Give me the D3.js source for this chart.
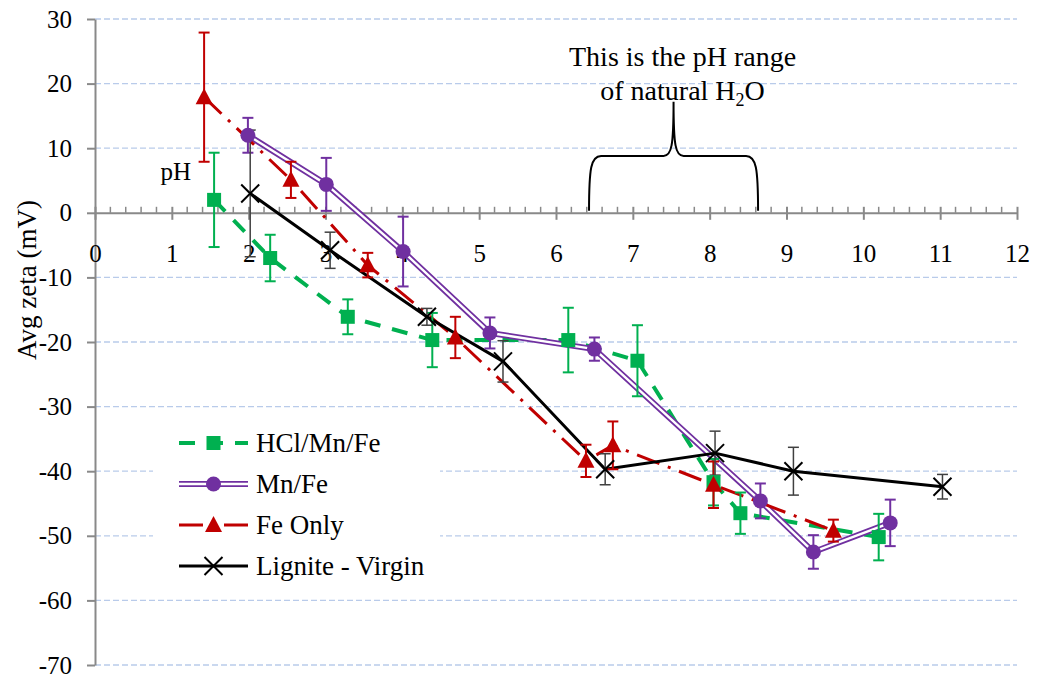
<!DOCTYPE html>
<html>
<head>
<meta charset="utf-8">
<script src="https://cdn.jsdelivr.net/npm/d3@7"></script>
<style>
  body { margin: 0; background: #fff; }
  svg { display: block; }
  svg text { font-family: "Liberation Serif", "Times New Roman", Tinos, "DejaVu Serif", serif; }
</style>
</head>
<body>
<svg id="chart" width="1038" height="683"></svg>
<script>
// data (pH, avg zeta mV, error +/-)
var phHCl = [1.55, 2.28, 3.29, 4.39, 6.16, 7.06, 8.05, 8.40, 10.20];
var zetaHCl = [2.0, -7.0, -16.1, -19.7, -19.7, -22.9, -41.7, -46.5, -50.2];
var errHCl = [7.3, 3.6, 2.7, 4.2, 5.0, 5.5, 3.6, 3.2, 3.6];

var phMnFe = [1.99, 3.01, 4.01, 5.14, 6.50, 8.66, 9.35, 10.35];
var zetaMnFe = [12.0, 4.4, -6.0, -18.6, -21.1, -44.6, -52.5, -48.0];
var errMnFe = [2.7, 4.1, 5.4, 2.4, 1.8, 2.7, 2.6, 3.6];

var phFe = [1.42, 2.55, 3.55, 4.69, 6.39, 6.74, 8.05, 9.61];
var zetaFe = [17.9, 5.1, -8.1, -19.3, -38.4, -36.0, -42.1, -49.2];
var errFe = [10.0, 2.8, 1.9, 3.2, 2.5, 3.7, 3.6, 1.7];

var phLig = [2.02, 3.06, 4.32, 5.31, 6.64, 8.07, 9.09, 11.03];
var zetaLig = [3.0, -5.8, -16.1, -23.0, -39.7, -37.2, -40.0, -42.4];
var errLig = [9.8, 2.8, 1.3, 3.2, 2.4, 3.4, 3.7, 1.9];

var seriesNames = ["HCl/Mn/Fe", "Mn/Fe", "Fe Only", "Lignite - Virgin"];
var yTicks = [30, 20, 10, 0, -10, -20, -30, -40, -50, -60, -70];
var xTicks = [0, 1, 2, 3, 4, 5, 6, 7, 8, 9, 10, 11, 12];
var naturalRange = [6.43, 8.63];

var serif = '"Liberation Serif", "Times New Roman", Tinos, "DejaVu Serif", serif';

function zip(px, zs, es) {
  return px.map(function (p, i) { return { x: p, y: zs[i], e: es[i] }; });
}

var series = [
  { name: seriesNames[0], data: zip(phHCl, zetaHCl, errHCl), color: "#00b050", width: 4, dash: "16 12", marker: "square" },
  { name: seriesNames[1], data: zip(phMnFe, zetaMnFe, errMnFe), color: "#7030a0", width: 6, dash: null, marker: "circle", double: true },
  { name: seriesNames[2], data: zip(phFe, zetaFe, errFe), color: "#c00000", width: 3, dash: "24 9 3 9", marker: "triangle" },
  { name: seriesNames[3], data: zip(phLig, zetaLig, errLig), color: "#000000", width: 3, dash: null, marker: "x", errColor: "#404040" }
];

var svg = d3.select("#chart").style("font-family", serif);
var x = d3.scaleLinear().domain([0, 12]).range([95, 1017]);
var y = d3.scaleLinear().domain([-70, 30]).range([665, 19]);
var axisColor = "#898989";
var plain = function (d) { return String(d); };

// gridlines
svg.append("g")
  .selectAll("line")
  .data(yTicks.filter(function (d) { return d !== 0; }))
  .join("line")
  .attr("x1", x(0)).attr("x2", x(12))
  .attr("y1", function (d) { return y(d); })
  .attr("y2", function (d) { return y(d); })
  .attr("stroke", "#b9cbea")
  .attr("stroke-width", 1.3)
  .attr("stroke-dasharray", "6 3");

// y axis
var yAxis = svg.append("g")
  .attr("transform", "translate(" + x(0) + ",0)")
  .call(d3.axisLeft(y).tickValues(yTicks).tickFormat(plain).tickSize(8).tickPadding(15).tickSizeOuter(0));
yAxis.attr("font-family", null).attr("font-size", 25);
yAxis.select(".domain").attr("stroke", axisColor).attr("stroke-width", 2);
yAxis.selectAll(".tick line").attr("stroke", axisColor).attr("stroke-width", 2);
yAxis.selectAll("text").attr("fill", "#000");

// x axis crossing at zero
var xAxis = svg.append("g")
  .attr("transform", "translate(0," + y(0) + ")")
  .call(d3.axisBottom(x).tickValues(xTicks).tickFormat(plain).tickSize(7).tickPadding(24).tickSizeOuter(0));
xAxis.attr("font-family", null).attr("font-size", 25);
xAxis.select(".domain").attr("stroke", axisColor).attr("stroke-width", 2);
xAxis.selectAll(".tick line").attr("stroke", axisColor).attr("stroke-width", 2).attr("y1", -6);
xAxis.selectAll("text").attr("fill", "#000");

// minor ticks every 0.2 pH above the axis
var minor = d3.range(0, 60).map(function (i) { return i / 5; }).filter(function (d) { return Math.round(d * 5) % 5 !== 0; });
xAxis.append("g")
  .selectAll("line")
  .data(minor)
  .join("line")
  .attr("x1", function (d) { return x(d); })
  .attr("x2", function (d) { return x(d); })
  .attr("y1", -6).attr("y2", 0)
  .attr("stroke", axisColor)
  .attr("stroke-width", 1.5);

// axis title
svg.append("text")
  .attr("transform", "translate(36,280) rotate(-90)")
  .attr("text-anchor", "middle")
  .attr("font-size", 27)
  .text("Avg zeta (mV)");

// "pH" label near axis
svg.append("text")
  .attr("x", x(1.05)).attr("y", y(0) - 33)
  .attr("text-anchor", "middle")
  .attr("font-size", 25)
  .text("pH");

// brace for natural water pH range
var bx0 = x(naturalRange[0]), bx1 = x(naturalRange[1]), bm = (bx0 + bx1) / 2;
var by0 = y(0) - 2, byH = y(8.8), byP = y(17.2);
var brace = d3.path();
brace.moveTo(bx0, by0);
brace.bezierCurveTo(bx0, byH + 12, bx0 + 2, byH, bx0 + 12, byH);
brace.lineTo(bm - 10, byH);
brace.bezierCurveTo(bm - 2, byH, bm, byH - 10, bm, byP);
brace.bezierCurveTo(bm, byH - 10, bm + 2, byH, bm + 10, byH);
brace.lineTo(bx1 - 12, byH);
brace.bezierCurveTo(bx1 - 2, byH, bx1, byH + 12, bx1, by0);
svg.append("path")
  .attr("d", brace.toString())
  .attr("fill", "none")
  .attr("stroke", "#000")
  .attr("stroke-width", 2);

var note = svg.append("text")
  .attr("text-anchor", "middle")
  .attr("font-size", 28);
note.append("tspan").attr("x", bm + 9).attr("y", 66).text("This is the pH range");
var l2 = note.append("tspan").attr("x", bm + 9).attr("y", 100);
l2.append("tspan").text("of natural H");
l2.append("tspan").attr("font-size", 18).attr("dy", 6).text("2");
l2.append("tspan").attr("dy", -6).text("O");

// lines
var line = d3.line().x(function (d) { return x(d.x); }).y(function (d) { return y(d.y); });
var gLines = svg.append("g");
series.forEach(function (s) {
  gLines.append("path")
    .attr("d", line(s.data))
    .attr("fill", "none")
    .attr("stroke", s.color)
    .attr("stroke-width", s.width)
    .attr("stroke-dasharray", s.dash)
    .attr("stroke-linejoin", "round");
  if (s.double) {
    gLines.append("path")
      .attr("d", line(s.data))
      .attr("fill", "none")
      .attr("stroke", "#fff")
      .attr("stroke-width", 2.4)
      .attr("stroke-linejoin", "round");
  }
});

// error bars
var gErr = svg.append("g");
series.forEach(function (s) {
  var c = s.errColor || s.color;
  var g = gErr.append("g").attr("stroke", c).attr("stroke-width", s.errColor ? 1.5 : 2);
  g.selectAll(".v").data(s.data).join("line")
    .attr("x1", function (d) { return x(d.x); }).attr("x2", function (d) { return x(d.x); })
    .attr("y1", function (d) { return y(d.y + d.e); }).attr("y2", function (d) { return y(d.y - d.e); });
  g.selectAll(".t").data(s.data).join("line")
    .attr("x1", function (d) { return x(d.x) - 5.5; }).attr("x2", function (d) { return x(d.x) + 5.5; })
    .attr("y1", function (d) { return y(d.y + d.e); }).attr("y2", function (d) { return y(d.y + d.e); });
  g.selectAll(".b").data(s.data).join("line")
    .attr("x1", function (d) { return x(d.x) - 5.5; }).attr("x2", function (d) { return x(d.x) + 5.5; })
    .attr("y1", function (d) { return y(d.y - d.e); }).attr("y2", function (d) { return y(d.y - d.e); });
});

function drawMarker(g, type, cx, cy, color) {
  if (type === "square") {
    g.append("rect").attr("x", cx - 7).attr("y", cy - 7).attr("width", 14).attr("height", 14).attr("fill", color);
  } else if (type === "circle") {
    g.append("circle").attr("cx", cx).attr("cy", cy).attr("r", 7.5).attr("fill", color);
  } else if (type === "triangle") {
    g.append("path").attr("d", "M" + cx + "," + (cy - 9) + "L" + (cx + 8.5) + "," + (cy + 7) + "L" + (cx - 8.5) + "," + (cy + 7) + "Z").attr("fill", color);
  } else {
    g.append("path").attr("d", "M" + (cx - 9) + "," + (cy - 9) + "L" + (cx + 9) + "," + (cy + 9) + "M" + (cx + 9) + "," + (cy - 9) + "L" + (cx - 9) + "," + (cy + 9))
      .attr("stroke", color).attr("stroke-width", 2).attr("fill", "none");
  }
}

// markers
var gMarks = svg.append("g");
series.forEach(function (s) {
  s.data.forEach(function (d) { drawMarker(gMarks, s.marker, x(d.x), y(d.y), s.color); });
});

// legend
var legend = svg.append("g");
legend.append("rect").attr("x", 153).attr("y", 423).attr("width", 287).attr("height", 167).attr("fill", "#fff");
series.forEach(function (s, i) {
  var ly = 443 + i * 41;
  var row = legend.append("g");
  row.append("line").attr("x1", 179).attr("x2", 248).attr("y1", ly).attr("y2", ly)
    .attr("stroke", s.color).attr("stroke-width", s.width).attr("stroke-dasharray", s.dash);
  if (s.double) {
    row.append("line").attr("x1", 179).attr("x2", 248).attr("y1", ly).attr("y2", ly)
      .attr("stroke", "#fff").attr("stroke-width", 2.4);
  }
  drawMarker(row, s.marker, 213.5, ly, s.color);
  row.append("text").attr("x", 256).attr("y", ly + 9).attr("font-size", 27).text(s.name);
});
</script>
</body>
</html>
